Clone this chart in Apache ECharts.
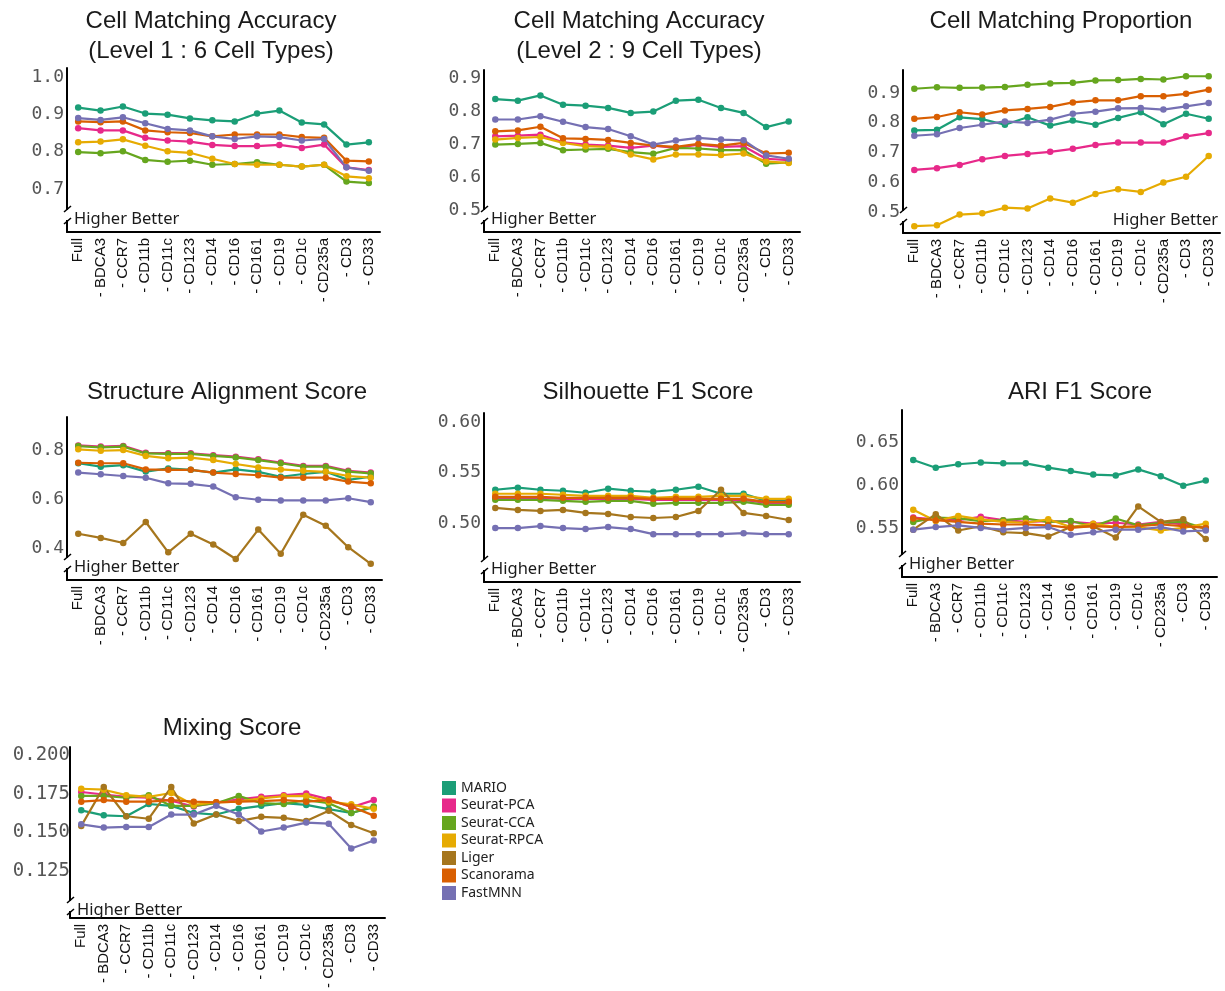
<!DOCTYPE html>
<html>
<head>
<meta charset="utf-8">
<script src="https://cdn.jsdelivr.net/npm/echarts@6/dist/echarts.min.js"></script>
<style>
  html, body { margin: 0; padding: 0; background: #fff; }
  #chart { width: 1225px; height: 991px; }
</style>
</head>
<body>
<div id="chart"></div>
<script>
// Marker panels (x axis): full panel, then one marker removed at a time
const markers = ['Full', '- BDCA3', '- CCR7', '- CD11b', '- CD11c', '- CD123', '- CD14',
  '- CD16', '- CD161', '- CD19', '- CD1c', '- CD235a', '- CD3', '- CD33'];

const methods = ['MARIO', 'Seurat-PCA', 'Seurat-CCA', 'Seurat-RPCA', 'Liger', 'Scanorama', 'FastMNN'];
const methodColors = ['#1b9e77', '#e7298a', '#66a61e', '#e6ab02', '#a6761d', '#d95f02', '#7570b3'];

// Cell matching accuracy, level 1 (6 cell types)
const accuracyLevel1 = {
  'MARIO':       [0.918, 0.910, 0.921, 0.902, 0.899, 0.889, 0.884, 0.881, 0.902, 0.910, 0.878, 0.873, 0.819, 0.825],
  'Seurat-PCA':  [0.863, 0.857, 0.857, 0.837, 0.830, 0.827, 0.818, 0.815, 0.815, 0.818, 0.810, 0.819, 0.758, 0.751],
  'Seurat-CCA':  [0.799, 0.796, 0.801, 0.778, 0.773, 0.776, 0.765, 0.767, 0.772, 0.765, 0.760, 0.765, 0.720, 0.716],
  'Seurat-RPCA': [0.825, 0.827, 0.833, 0.816, 0.801, 0.797, 0.781, 0.767, 0.765, 0.765, 0.760, 0.765, 0.734, 0.729],
  'Scanorama':   [0.881, 0.879, 0.881, 0.857, 0.852, 0.850, 0.841, 0.846, 0.846, 0.846, 0.839, 0.837, 0.776, 0.774],
  'FastMNN':     [0.890, 0.885, 0.892, 0.876, 0.861, 0.857, 0.841, 0.834, 0.841, 0.839, 0.830, 0.834, 0.758, 0.749]
};
const accuracyLevel1Ticks = [0.7, 0.8, 0.9, 1.0];

// Cell matching accuracy, level 2 (9 cell types)
const accuracyLevel2 = {
  'MARIO':       [0.836, 0.831, 0.847, 0.819, 0.816, 0.809, 0.794, 0.798, 0.831, 0.834, 0.809, 0.794, 0.751, 0.768],
  'Seurat-PCA':  [0.723, 0.725, 0.728, 0.705, 0.698, 0.695, 0.688, 0.695, 0.688, 0.698, 0.691, 0.693, 0.655, 0.651],
  'Seurat-CCA':  [0.698, 0.700, 0.703, 0.681, 0.683, 0.685, 0.675, 0.670, 0.688, 0.686, 0.681, 0.681, 0.640, 0.644],
  'Seurat-RPCA': [0.713, 0.718, 0.721, 0.703, 0.693, 0.691, 0.668, 0.653, 0.668, 0.668, 0.666, 0.671, 0.647, 0.642],
  'Scanorama':   [0.738, 0.741, 0.752, 0.717, 0.715, 0.712, 0.703, 0.695, 0.691, 0.700, 0.695, 0.703, 0.671, 0.673],
  'FastMNN':     [0.774, 0.774, 0.784, 0.767, 0.751, 0.745, 0.723, 0.698, 0.710, 0.718, 0.713, 0.711, 0.665, 0.655]
};
const accuracyLevel2Ticks = [0.5, 0.6, 0.7, 0.8, 0.9];

// Cell matching proportion
const matchingProportion = {
  'MARIO':       [0.774, 0.776, 0.818, 0.812, 0.793, 0.818, 0.790, 0.807, 0.793, 0.816, 0.835, 0.795, 0.830, 0.813],
  'Seurat-PCA':  [0.641, 0.647, 0.658, 0.677, 0.688, 0.695, 0.702, 0.712, 0.725, 0.733, 0.733, 0.733, 0.754, 0.765],
  'Seurat-CCA':  [0.914, 0.919, 0.917, 0.918, 0.920, 0.927, 0.932, 0.934, 0.942, 0.943, 0.947, 0.945, 0.956, 0.956],
  'Seurat-RPCA': [0.452, 0.455, 0.491, 0.495, 0.514, 0.511, 0.545, 0.531, 0.560, 0.576, 0.567, 0.599, 0.618, 0.688],
  'Scanorama':   [0.813, 0.819, 0.835, 0.827, 0.841, 0.846, 0.853, 0.868, 0.875, 0.875, 0.889, 0.889, 0.897, 0.911],
  'FastMNN':     [0.756, 0.761, 0.782, 0.793, 0.804, 0.799, 0.810, 0.830, 0.837, 0.848, 0.849, 0.844, 0.855, 0.866]
};
const matchingProportionTicks = [0.5, 0.6, 0.7, 0.8, 0.9];

// Structure alignment score
const structureAlignment = {
  'MARIO':       [0.746, 0.732, 0.738, 0.712, 0.725, 0.719, 0.708, 0.721, 0.711, 0.691, 0.702, 0.711, 0.678, 0.691],
  'Seurat-PCA':  [0.819, 0.814, 0.817, 0.789, 0.787, 0.787, 0.779, 0.773, 0.762, 0.749, 0.735, 0.735, 0.715, 0.708],
  'Seurat-CCA':  [0.816, 0.811, 0.814, 0.786, 0.784, 0.784, 0.776, 0.770, 0.759, 0.746, 0.732, 0.732, 0.712, 0.705],
  'Seurat-RPCA': [0.803, 0.797, 0.800, 0.776, 0.766, 0.769, 0.759, 0.743, 0.729, 0.721, 0.715, 0.711, 0.694, 0.687],
  'Liger':       [0.458, 0.441, 0.420, 0.506, 0.382, 0.458, 0.414, 0.355, 0.475, 0.376, 0.536, 0.491, 0.403, 0.335],
  'Scanorama':   [0.748, 0.746, 0.746, 0.721, 0.719, 0.719, 0.708, 0.702, 0.697, 0.687, 0.687, 0.687, 0.671, 0.664],
  'FastMNN':     [0.708, 0.701, 0.694, 0.687, 0.664, 0.662, 0.651, 0.607, 0.597, 0.594, 0.594, 0.594, 0.603, 0.587]
};
const structureAlignmentTicks = [0.4, 0.6, 0.8];

// Silhouette F1 score
const silhouetteF1 = {
  'MARIO':       [0.533, 0.535, 0.533, 0.532, 0.530, 0.534, 0.532, 0.531, 0.533, 0.536, 0.529, 0.529, 0.522, 0.522],
  'Seurat-PCA':  [0.525, 0.525, 0.525, 0.524, 0.524, 0.524, 0.524, 0.523, 0.523, 0.523, 0.523, 0.523, 0.520, 0.520],
  'Seurat-CCA':  [0.523, 0.523, 0.523, 0.522, 0.521, 0.522, 0.522, 0.519, 0.520, 0.520, 0.520, 0.521, 0.518, 0.518],
  'Seurat-RPCA': [0.529, 0.529, 0.529, 0.528, 0.527, 0.527, 0.527, 0.525, 0.526, 0.526, 0.527, 0.527, 0.524, 0.524],
  'Liger':       [0.515, 0.513, 0.512, 0.513, 0.510, 0.509, 0.506, 0.505, 0.506, 0.512, 0.533, 0.510, 0.507, 0.503],
  'Scanorama':   [0.526, 0.526, 0.526, 0.525, 0.525, 0.525, 0.525, 0.524, 0.524, 0.524, 0.524, 0.524, 0.521, 0.521],
  'FastMNN':     [0.495, 0.495, 0.497, 0.495, 0.494, 0.496, 0.494, 0.489, 0.489, 0.489, 0.489, 0.490, 0.489, 0.489]
};
const silhouetteF1Ticks = [0.50, 0.55, 0.60];

// ARI F1 score
const ariF1 = {
  'MARIO':       [0.630, 0.621, 0.625, 0.627, 0.626, 0.626, 0.621, 0.617, 0.613, 0.612, 0.619, 0.611, 0.600, 0.606],
  'Seurat-PCA':  [0.563, 0.561, 0.560, 0.564, 0.560, 0.558, 0.559, 0.558, 0.556, 0.557, 0.555, 0.558, 0.555, 0.551],
  'Seurat-CCA':  [0.558, 0.563, 0.562, 0.559, 0.560, 0.562, 0.558, 0.559, 0.553, 0.562, 0.554, 0.557, 0.558, 0.550],
  'Seurat-RPCA': [0.572, 0.559, 0.565, 0.561, 0.558, 0.557, 0.561, 0.552, 0.556, 0.552, 0.552, 0.548, 0.551, 0.556],
  'Liger':       [0.549, 0.567, 0.548, 0.553, 0.546, 0.545, 0.541, 0.552, 0.553, 0.540, 0.576, 0.558, 0.561, 0.538],
  'Scanorama':   [0.562, 0.560, 0.558, 0.556, 0.555, 0.555, 0.554, 0.551, 0.553, 0.552, 0.553, 0.555, 0.553, 0.551],
  'FastMNN':     [0.549, 0.552, 0.554, 0.551, 0.549, 0.551, 0.552, 0.543, 0.546, 0.549, 0.549, 0.552, 0.547, 0.548]
};
const ariF1Ticks = [0.55, 0.60, 0.65];

// Mixing score
const mixingScore = {
  'MARIO':       [0.1642, 0.1610, 0.1604, 0.1683, 0.1671, 0.1625, 0.1615, 0.1652, 0.1671, 0.1688, 0.1677, 0.1650, 0.1625, 0.1662],
  'Seurat-PCA':  [0.1760, 0.1744, 0.1729, 0.1723, 0.1704, 0.1667, 0.1692, 0.1713, 0.1729, 0.1740, 0.1750, 0.1713, 0.1662, 0.1708],
  'Seurat-CCA':  [0.1735, 0.1735, 0.1723, 0.1740, 0.1671, 0.1671, 0.1688, 0.1735, 0.1688, 0.1683, 0.1708, 0.1688, 0.1625, 0.1667],
  'Seurat-RPCA': [0.1781, 0.1775, 0.1740, 0.1729, 0.1754, 0.1677, 0.1694, 0.1698, 0.1719, 0.1733, 0.1735, 0.1698, 0.1681, 0.1652],
  'Liger':       [0.1542, 0.1792, 0.1604, 0.1588, 0.1792, 0.1558, 0.1615, 0.1573, 0.1600, 0.1594, 0.1573, 0.1640, 0.1548, 0.1494],
  'Scanorama':   [0.1698, 0.1708, 0.1698, 0.1698, 0.1708, 0.1698, 0.1694, 0.1698, 0.1702, 0.1708, 0.1698, 0.1708, 0.1667, 0.1608],
  'FastMNN':     [0.1552, 0.1531, 0.1535, 0.1535, 0.1615, 0.1615, 0.1671, 0.1615, 0.1506, 0.1531, 0.1563, 0.1556, 0.1396, 0.1448]
};
const mixingScoreTicks = [0.125, 0.150, 0.175, 0.200];

// Panel layout: plot box [left, top, right, bottom] in pixels, y range, title placement
const panels = [
  { title: 'Cell Matching Accuracy\n(Level 1 : 6 Cell Types)', values: accuracyLevel1, ticks: accuracyLevel1Ticks, digits: 1,
    box: [67, 68, 380, 232], yMin: 0.585, yMax: 1.024, titleX: 211, titleY: 6, note: 'left' },
  { title: 'Cell Matching Accuracy\n(Level 2 : 9 Cell Types)', values: accuracyLevel2, ticks: accuracyLevel2Ticks, digits: 1,
    box: [484, 70, 800, 232], yMin: 0.433, yMax: 0.924, titleX: 639, titleY: 6, note: 'left' },
  { title: 'Cell Matching Proportion', values: matchingProportion, ticks: matchingProportionTicks, digits: 1,
    box: [903, 70, 1220, 233], yMin: 0.429, yMax: 0.977, titleX: 1061, titleY: 6, note: 'right' },
  { title: 'Structure Alignment Score', values: structureAlignment, ticks: structureAlignmentTicks, digits: 1,
    box: [67, 417, 382, 580], yMin: 0.269, yMax: 0.935, titleX: 227, titleY: 377, note: 'left' },
  { title: 'Silhouette F1 Score', values: silhouetteF1, ticks: silhouetteF1Ticks, digits: 2,
    box: [484, 413, 800, 582], yMin: 0.4416, yMax: 0.609, titleX: 648, titleY: 377, note: 'left' },
  { title: 'ARI F1 Score', values: ariF1, ticks: ariF1Ticks, digits: 2,
    box: [902, 410, 1217, 577], yMin: 0.494, yMax: 0.688, titleX: 1080, titleY: 377, note: 'left' },
  { title: 'Mixing Score', values: mixingScore, ticks: mixingScoreTicks, digits: 3,
    box: [70, 747, 385, 923], yMin: 0.095, yMax: 0.205, titleX: 232, titleY: 713, note: 'left' }
];

const chart = echarts.init(document.getElementById('chart'), null, { renderer: 'canvas' });

const grids = [], xAxes = [], yAxes = [], series = [], graphics = [];

panels.forEach((p, i) => {
  const [l, t, r, b] = p.box;
  grids.push({ left: l, top: t, width: r - l, height: b - t, containLabel: false });

  xAxes.push({
    type: 'category', gridIndex: i, data: markers, boundaryGap: true,
    axisLine: { show: true, lineStyle: { color: '#000', width: 2 } },
    axisTick: { show: false },
    axisLabel: { interval: 0, rotate: 90, margin: 6, fontSize: 15, color: '#111',
      fontFamily: '"Liberation Sans", Arial, sans-serif' },
    splitLine: { show: false }
  });

  yAxes.push({
    type: 'value', gridIndex: i, min: p.yMin, max: p.yMax,
    axisLine: { show: true, lineStyle: { color: '#000', width: 2 } },
    axisTick: { show: false },
    splitLine: { show: false },
    axisLabel: {
      customValues: p.ticks, margin: i === 6 ? 0 : 3, fontSize: i === 6 ? 19 : 18, color: '#555',
      fontFamily: '"DejaVu Sans Mono", monospace',
      formatter: v => Number(v).toFixed(p.digits)
    }
  });

  methods.forEach((m, k) => {
    if (!p.values[m]) return;
    series.push({
      type: 'line', name: m, xAxisIndex: i, yAxisIndex: i,
      data: p.values[m],
      symbol: 'circle', symbolSize: 6.5, showSymbol: true,
      itemStyle: { color: methodColors[k] },
      lineStyle: { color: methodColors[k], width: 2.2 },
      emphasis: { disabled: true },
      animation: false
    });
  });

  // Panel title
  graphics.push({
    type: 'text', x: p.titleX, y: p.titleY, z: 50,
    style: { text: p.title, fill: '#1a1a1a', fontSize: 24, lineHeight: 30,
      fontFamily: '"Liberation Sans", Arial, sans-serif', align: 'center', verticalAlign: 'top' }
  });

  // "Higher Better" note
  graphics.push({
    type: 'text', z: 50,
    x: p.note === 'left' ? l + 7 : r - 2, y: b - 13,
    style: { text: 'Higher Better', fill: '#1a1a1a', fontSize: 16.5,
      fontFamily: '"Noto Sans", "Open Sans", sans-serif',
      align: p.note === 'left' ? 'left' : 'right', verticalAlign: 'middle' }
  });

  // Break mark on the y axis
  const yb = b - 17;
  graphics.push({ type: 'rect', z: 60, shape: { x: l - 3, y: yb - 5, width: 6, height: 10 }, style: { fill: '#fff' } });
  graphics.push({ type: 'line', z: 61, shape: { x1: l + 4, y1: yb - 9, x2: l - 3, y2: yb - 3 }, style: { stroke: '#000', lineWidth: 1.6 } });
  graphics.push({ type: 'line', z: 61, shape: { x1: l + 4, y1: yb + 3, x2: l - 3, y2: yb + 9 }, style: { stroke: '#000', lineWidth: 1.6 } });
});

chart.setOption({
  backgroundColor: '#fff',
  animation: false,
  grid: grids,
  xAxis: xAxes,
  yAxis: yAxes,
  series: series,
  legend: {
    data: methods.map((m, k) => ({ name: m, itemStyle: { color: methodColors[k] } })),
    orient: 'vertical', left: 442, top: 781, padding: 0,
    icon: 'rect', itemWidth: 14, itemHeight: 14, itemGap: 3.5,
    selectedMode: false,
    textStyle: { fontSize: 14, color: '#222', fontFamily: '"Noto Sans", "Open Sans", sans-serif' }
  },
  graphic: graphics
});
</script>
</body>
</html>
